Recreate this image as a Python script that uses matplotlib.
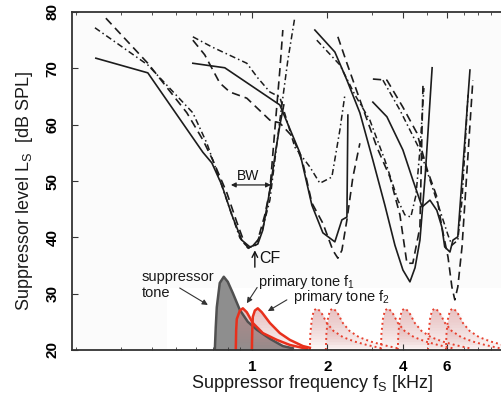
import numpy as np
import matplotlib.pyplot as plt
from matplotlib.patches import Rectangle
from matplotlib.ticker import FixedLocator, NullFormatter

plt.rcParams['font.family'] = ['Liberation Sans', 'DejaVu Sans']
plt.rcParams['mathtext.fontset'] = 'custom'
plt.rcParams['mathtext.rm'] = 'Liberation Sans'
plt.rcParams['mathtext.it'] = 'Liberation Sans:italic'

# suppression tuning curves, frequency in kHz, level in dB SPL
# group 1 (CF ~1 kHz)
g1_solid_f = [0.239, 0.385, 0.638, 0.693, 0.759, 0.832, 0.912, 0.982, 1.056, 1.106, 1.180, 1.246, 1.293, 1.341]
g1_solid_L = [71.8, 69.2, 55.1, 53.2, 49.3, 44.0, 39.5, 38.3, 38.8, 41.3, 48.4, 55.5, 59.9, 63.5]
g1_dash_f = [0.262, 0.385, 0.551, 0.638, 0.699, 0.795, 0.871, 0.938, 0.982, 1.056, 1.127, 1.180, 1.235, 1.293, 1.329]
g1_dash_L = [78.9, 70.9, 62.1, 57.3, 53.7, 47.9, 42.7, 38.8, 37.9, 39.5, 44.0, 48.4, 59.1, 69.7, 76.8]
g1_dd_f = [0.237, 0.385, 0.582, 0.662, 0.745, 0.832, 0.896, 0.964, 1.037, 1.106, 1.180, 1.293, 1.392, 1.484]
g1_dd_L = [77.2, 70.6, 62.1, 56.7, 50.2, 44.0, 39.9, 38.1, 38.6, 41.7, 46.6, 60.8, 71.5, 79.1]

# group 2 (CF ~2 kHz)
g2_solid_f = [0.582, 0.780, 1.293, 1.554, 1.735, 1.919, 2.142, 2.285, 2.393, 2.414]
g2_solid_L = [70.9, 70.1, 63.5, 55.0, 45.7, 40.8, 39.2, 43.1, 43.6, 61.7]
g2_dash_f = [0.582, 0.649, 0.745, 0.817, 0.955, 1.180, 1.293, 1.457, 1.597, 1.735, 1.919, 2.103, 2.202, 2.285, 2.393, 2.528, 2.695]
g2_dash_L = [75.0, 72.4, 67.4, 65.8, 64.7, 60.8, 60.3, 57.8, 53.2, 46.1, 42.5, 37.7, 36.3, 37.7, 43.1, 50.7, 56.7]
g2_dd_f = [0.582, 0.693, 0.955, 1.056, 1.180, 1.293, 1.484, 1.703, 1.867, 2.084, 2.244, 2.349]
g2_dd_L = [75.6, 73.8, 70.9, 68.3, 65.8, 64.9, 56.0, 52.5, 49.6, 50.7, 59.1, 65.3]

# group 3 (CF ~4 kHz)
g3_solid_f = [1.783, 2.142, 2.393, 2.695, 3.036, 3.390, 3.717, 4.0, 4.266, 4.47, 4.676, 4.91, 5.23]
g3_solid_L = [76.8, 72.9, 67.9, 62.1, 53.7, 45.7, 38.6, 34.2, 32.1, 34.6, 39.5, 51.1, 70.1]
g3_dash_f = [2.202, 2.393, 2.695, 3.151, 3.55, 3.891, 4.15, 4.38, 4.676, 4.81]
g3_dash_L = [75.6, 70.9, 64.4, 56.0, 50.7, 44.0, 35.4, 35.4, 41.8, 67.4]
g3_dd_f = [1.815, 2.244, 2.574, 2.954, 3.39, 3.82, 4.07, 4.30, 4.51, 4.676, 4.85]
g3_dd_L = [75.0, 70.6, 65.3, 60.8, 53.7, 46.6, 44.0, 43.6, 47.5, 55.5, 66.5]

# group 4 (CF ~6 kHz)
g4_solid_f = [3.036, 3.454, 4.0, 4.38, 4.77, 5.126, 5.46, 5.72, 5.87, 6.159, 6.33, 6.62, 7.40]
g4_solid_L = [64.0, 61.4, 55.5, 50.2, 45.4, 46.6, 44.8, 41.8, 38.3, 37.4, 39.5, 40.1, 69.7]
g4_dash_f = [3.036, 3.454, 4.0, 4.55, 5.0, 5.46, 5.72, 6.05, 6.27, 6.44, 6.62, 6.88, 7.60]
g4_dash_L = [68.1, 67.9, 63.1, 58.5, 52.0, 47.2, 41.8, 36.5, 31.2, 28.9, 31.2, 38.3, 67.9]
g4_dd_f = [3.33, 3.891, 4.676, 5.126, 5.618, 6.05, 6.27, 6.62, 6.88, 7.27]
g4_dd_L = [67.9, 62.6, 55.5, 50.2, 44.8, 40.4, 38.6, 39.5, 46.6, 65.3]

# tone sketches at the bottom
supp_f = [0.712, 0.718, 0.725, 0.745, 0.773, 0.802, 0.840, 0.896, 0.964, 1.047, 1.180, 1.329, 1.457]
supp_L = [20.0, 24.0, 27.6, 31.9, 33.0, 32.1, 30.1, 27.1, 25.0, 23.6, 22.0, 20.7, 20.3]
f1_f = [0.863, 0.866, 0.871, 0.896, 0.921, 0.955, 1.009, 1.106, 1.258, 1.417, 1.657]
f1_L = [20.0, 23.5, 25.5, 27.0, 27.4, 26.7, 24.8, 23.0, 21.8, 20.9, 20.2]
f2_f = [1.0, 1.004, 1.009, 1.028, 1.056, 1.096, 1.180, 1.293, 1.417, 1.597, 1.703]
f2_L = [20.0, 23.5, 25.9, 27.0, 27.4, 26.7, 24.8, 23.0, 21.8, 20.7, 20.4]
dist_peaks = [1.815, 2.103, 3.485, 4.07, 5.37, 6.33]
dist_oct = [-0.093, -0.085, -0.066, -0.04, 0, 0.053, 0.132, 0.22, 0.344, 0.5, 0.662, 0.861]
dist_L = [20, 23, 25.5, 27.0, 27.4, 26.8, 24.8, 23.4, 22.3, 21.5, 20.9, 20.3]

x_ticks = [1, 2, 4, 6]
x_tick_labels = ['1', '2', '4', '6']
y_ticks = [20, 30, 40, 50, 60, 70, 80]

fig = plt.figure(figsize=(5.02, 3.94), dpi=100, facecolor='white')
ax = fig.add_axes([72/502, 1-350/394, 430/502, 338/394])
ax.set_facecolor('#fbfbfb')
ax.add_patch(Rectangle((0.221, 0), 0.779, 0.183, transform=ax.transAxes,
                       facecolor='white', edgecolor='none', zorder=0.5))
ax.set_xscale('log')
ax.set_xlim(0.192, 9.93)
ax.set_ylim(20, 80)

ink = '#1c1c1c'
solid = dict(color=ink, lw=1.2, ls='-')
dash = dict(color=ink, lw=1.2, ls=(0, (5, 3)))
dd = dict(color=ink, lw=1.1, ls=(0, (4, 2, 1, 2)))

for f, L, st in [(g1_solid_f, g1_solid_L, solid), (g1_dash_f, g1_dash_L, dash), (g1_dd_f, g1_dd_L, dd),
                 (g2_solid_f, g2_solid_L, solid), (g2_dash_f, g2_dash_L, dash), (g2_dd_f, g2_dd_L, dd),
                 (g3_solid_f, g3_solid_L, solid), (g3_dash_f, g3_dash_L, dash), (g3_dd_f, g3_dd_L, dd),
                 (g4_solid_f, g4_solid_L, solid), (g4_dash_f, g4_dash_L, dash), (g4_dd_f, g4_dd_L, dd)]:
    ax.plot(f, L, zorder=3, **st)


def pink_fill(f, L):
    L = np.asarray(L)
    for lo in np.arange(20, 27.4, 0.5):
        ax.fill_between(f, lo, np.maximum(L, lo), color='#d98a8a', alpha=0.045, lw=0, zorder=1.5)


# suppressor tone
ax.fill_between(supp_f, 20, supp_L, color='#8e8e8e', lw=0, zorder=1)
ax.plot(supp_f, supp_L, color='#505050', lw=1.8, zorder=2)

# distortion products (dotted)
for pk in dist_peaks:
    f = [pk * 2 ** o for o in dist_oct]
    pink_fill(f, dist_L)
    ax.plot(f, dist_L, color='#e8402e', lw=1.4, ls=(0, (1, 1.6)), zorder=2)

# primary tones
for f, L in [(f1_f, f1_L), (f2_f, f2_L)]:
    pink_fill(f, L)
    ax.plot(f, L, color='#e8301c', lw=1.8, zorder=2.5)

# annotations
arr = dict(arrowstyle='-|>', color='#333333', lw=0.8, mutation_scale=8, shrinkA=0, shrinkB=0)
ax.text(0.364, 33.0, 'suppressor', fontsize=10.5, va='center', ha='left', color='#1a1a1a')
ax.text(0.364, 30.1, 'tone', fontsize=10.5, va='center', ha='left', color='#1a1a1a')
ax.annotate('', xy=(0.668, 28.0), xytext=(0.516, 31.0), arrowprops=arr)
ax.text(1.056, 32.1, r'primary tone f$_\mathrm{1}$', fontsize=10.5, va='center', ha='left', color='#1a1a1a')
ax.annotate('', xy=(0.955, 28.3), xytext=(1.05, 31.1), arrowprops=arr)
ax.text(1.457, 29.4, r'primary tone f$_\mathrm{2}$', fontsize=10.5, va='center', ha='left', color='#1a1a1a')
ax.annotate('', xy=(1.158, 26.9), xytext=(1.379, 28.9), arrowprops=arr)

ax.annotate('', xy=(0.825, 49.3), xytext=(1.191, 49.3),
            arrowprops=dict(arrowstyle='<|-|>', color='#222222', lw=0.9, mutation_scale=7,
                            shrinkA=0, shrinkB=0))
ax.text(0.964, 50.9, 'BW', fontsize=10, ha='center', va='center', color='#111111')
ax.annotate('', xy=(1.028, 37.7), xytext=(1.028, 34.7),
            arrowprops=dict(arrowstyle='->', color='#111111', lw=1.0, shrinkA=0, shrinkB=0))
ax.text(1.075, 36.3, 'CF', fontsize=11.5, ha='left', va='center', color='#111111')

# axes styling
for s in ['left', 'bottom', 'top']:
    ax.spines[s].set_color('#333333')
    ax.spines[s].set_linewidth(1.3)
ax.spines['right'].set_visible(False)

ax.set_xticks(x_ticks)
ax.set_xticklabels(x_tick_labels, fontweight='bold', fontsize=11)
ax.xaxis.set_minor_locator(FixedLocator([0.2, 0.3, 0.4, 0.5, 0.6, 0.7, 0.8, 0.9, 3, 5, 7, 8, 9]))
ax.xaxis.set_minor_formatter(NullFormatter())
ax.set_yticks(y_ticks)
ax.set_yticklabels([str(v) for v in y_ticks], fontweight='bold', fontsize=11, rotation=90, va='center')
ax.tick_params(which='both', direction='in', top=True, right=False, color='#333333')
ax.tick_params(axis='x', which='major', length=4, pad=7)
ax.tick_params(axis='x', which='minor', length=2.5)
ax.tick_params(axis='y', length=4, pad=9)

fig.text(312/502, 1-383/394, r'Suppressor frequency f$_\mathrm{S}$ [kHz]', fontsize=13,
         ha='center', va='center', color='#1a1a1a')
fig.text(25/502, 1-191/394, r'Suppressor level L$_\mathrm{S}$  [dB SPL]', fontsize=13,
         ha='center', va='center', rotation=90, color='#1a1a1a')

fig.savefig('out.png', dpi=100, facecolor=fig.get_facecolor())
